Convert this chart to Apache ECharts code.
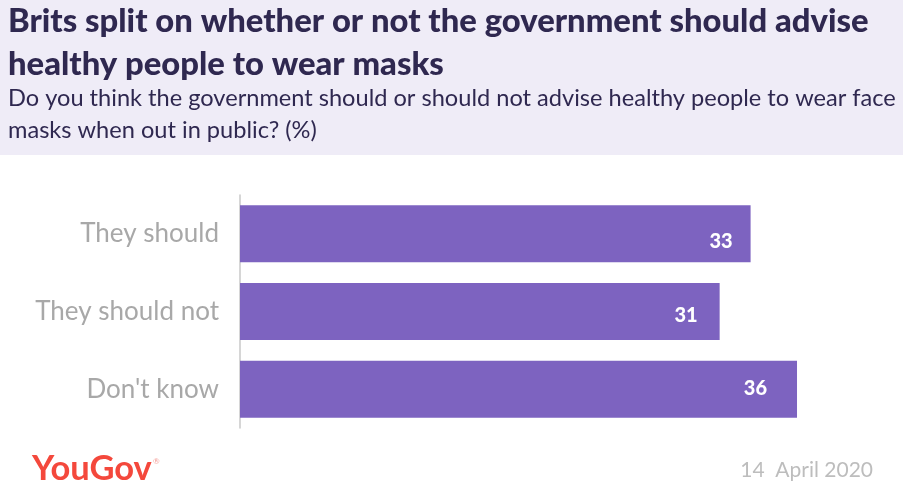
<!DOCTYPE html>
<html>
<head>
<meta charset="utf-8">
<style>
  html, body { margin: 0; padding: 0; background: #fff; }
  #chart { width: 903px; height: 489px; }
</style>
<script src="https://cdn.jsdelivr.net/npm/echarts@6/dist/echarts.min.js"></script>
</head>
<body>
<div id="chart"></div>
<script>
const categories = ["They should", "They should not", "Don't know"]
const values = [33, 31, 36]

const titleLines = ["Brits split on whether or not the government should advise", "healthy people to wear masks"]
const subtitleLines = ["Do you think the government should or should not advise healthy people to wear face", "masks when out in public? (%)"]
const brand = "YouGov"
const dateText = "14  April 2020"

const FONT = "Lato, 'Open Sans', sans-serif"

// value labels in the original are not evenly placed inside the bars
const labelNudge = [[0, 8], [-4, 4], [-12, -1]]

const echart = echarts.init(document.getElementById("chart"), null, { renderer: "canvas" })

echart.setOption({
  animation: false,
  backgroundColor: "#ffffff",
  grid: { left: 240, right: 0, top: 195, height: 233, containLabel: false },
  xAxis: { type: "value", min: 0, max: 42.85, show: false },
  yAxis: {
    type: "category",
    inverse: true,
    data: categories,
    axisLine: { show: true, lineStyle: { color: "#c8c8c8", width: 1.5 } },
    axisTick: { show: false },
    axisLabel: { color: "#a8a8a8", fontFamily: FONT, fontSize: 26, margin: 21 }
  },
  series: [{
    type: "bar",
    data: values.map((v, i) => ({ value: v, label: { offset: labelNudge[i] } })),
    barWidth: 57,
    itemStyle: { color: "#7d63c0" },
    label: {
      show: true,
      position: "insideRight",
      distance: 18,
      color: "#ffffff",
      fontFamily: FONT,
      fontWeight: 900,
      fontSize: 20
    }
  }],
  graphic: [
    { type: "rect", left: 0, top: 0, shape: { width: 903, height: 155 }, style: { fill: "#efecf7" } },
    { type: "text", left: 8, top: 5, style: { text: titleLines[0], fill: "#2f2850", font: "900 32.8px " + FONT } },
    { type: "text", left: 8, top: 48, style: { text: titleLines[1], fill: "#2f2850", font: "900 32.8px " + FONT } },
    { type: "text", left: 8, top: 86, style: { text: subtitleLines[0], fill: "#2f2850", font: "400 23.6px " + FONT } },
    { type: "text", left: 8, top: 118, style: { text: subtitleLines[1], fill: "#2f2850", font: "400 23.6px " + FONT } },
    { type: "text", left: 32, top: 451, style: { text: brand, fill: "#f4483c", font: "700 34.5px " + FONT } },
    { type: "text", left: 153, top: 457, style: { text: "®", fill: "#f4a09a", font: "400 8px " + FONT } },
    { type: "text", right: 30, top: 460, style: { text: dateText, fill: "#bdbdbd", font: "400 21px " + FONT } }
  ]
})
</script>
</body>
</html>
